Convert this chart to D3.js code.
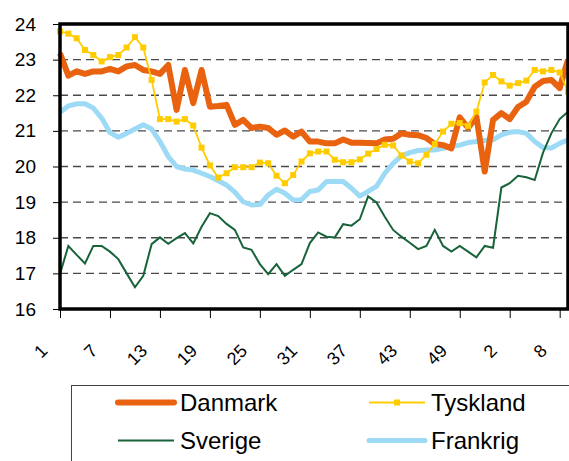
<!DOCTYPE html>
<html>
<head>
<meta charset="utf-8">
<script src="https://cdn.jsdelivr.net/npm/d3@7"></script>
<style>
  body { margin: 0; background: #fff; }
  svg { display: block; font-family: Arial, "Liberation Sans", sans-serif; }
</style>
</head>
<body>
<svg id="chart" width="569" height="461"></svg>
<script>
// week numbers along the x axis (53 weeks, then next year)
const weeks = [1,2,3,4,5,6,7,8,9,10,11,12,13,14,15,16,17,18,19,20,21,22,23,24,25,26,27,28,29,30,
  31,32,33,34,35,36,37,38,39,40,41,42,43,44,45,46,47,48,49,50,51,52,53,1,2,3,4,5,6,7,8,9];

const danmark = [23.18,22.55,22.67,22.6,22.67,22.67,22.74,22.67,22.81,22.85,22.71,22.67,22.6,22.85,21.59,
  22.71,21.78,22.71,21.68,21.7,21.73,21.17,21.31,21.08,21.12,21.08,20.89,21.01,20.84,20.98,20.7,20.7,
  20.65,20.65,20.76,20.67,20.67,20.66,20.65,20.76,20.78,20.93,20.89,20.88,20.8,20.63,20.6,20.51,21.38,
  21.08,21.4,19.86,21.31,21.5,21.33,21.67,21.82,22.24,22.4,22.43,22.2,23.0];

const tyskland = [23.79,23.73,23.6,23.27,23.13,22.95,23.07,23.13,23.34,23.63,23.34,22.43,21.33,21.33,21.26,
  21.33,21.15,20.53,20.03,19.69,19.81,19.98,19.98,19.98,20.11,20.09,19.74,19.53,19.76,20.14,20.37,20.42,
  20.42,20.19,20.12,20.12,20.2,20.36,20.49,20.61,20.59,20.31,20.14,20.09,20.33,20.63,20.98,21.2,21.22,
  21.14,21.54,22.36,22.57,22.39,22.27,22.34,22.41,22.71,22.67,22.71,22.64,22.1];

const sverige = [16.98,17.77,17.52,17.28,17.77,17.77,17.61,17.4,17.0,16.61,16.93,17.82,18.01,17.83,17.99,
  18.13,17.84,18.31,18.69,18.61,18.39,18.22,17.73,17.66,17.26,16.98,17.26,16.93,17.1,17.26,17.85,18.15,
  18.03,18.01,18.38,18.34,18.52,19.16,18.99,18.59,18.22,18.03,17.86,17.68,17.77,18.22,17.77,17.61,17.77,
  17.61,17.45,17.77,17.72,19.41,19.53,19.74,19.7,19.62,20.39,20.93,21.33,21.54];

const frankrig = [21.52,21.7,21.76,21.76,21.64,21.36,20.95,20.82,20.93,21.05,21.17,21.05,20.7,20.28,20.0,
  19.93,19.9,19.81,19.72,19.6,19.48,19.28,19.01,18.92,18.93,19.2,19.36,19.25,19.06,19.07,19.3,19.34,
  19.58,19.58,19.58,19.39,19.17,19.3,19.44,19.81,20.09,20.3,20.39,20.45,20.46,20.46,20.51,20.56,20.6,
  20.67,20.7,20.73,20.75,20.89,20.96,20.98,20.93,20.7,20.53,20.52,20.65,20.75];

const yTicks = [16,17,18,19,20,21,22,23,24];
const xTickIdx = [0,6,12,18,24,30,36,42,48,54,60];

const colors = { Danmark: '#e8620f', Tyskland: '#ffcc00', Sverige: '#17633a', Frankrig: '#9ddaf6' };

// plot box
const plotL = 60, plotR = 568, plotT = 24, plotB = 309;

const svg = d3.select('#chart');

const idx = d3.range(weeks.length);
const x = d3.scalePoint().domain(idx).range([plotL, plotR]);
const y = d3.scaleLinear().domain([16, 24]).range([plotB, plotT]);

// dashed grid
svg.append('g')
  .selectAll('line')
  .data(yTicks.filter(d => d > 16 && d < 24))
  .enter().append('line')
  .attr('x1', plotL).attr('x2', plotR)
  .attr('y1', d => y(d)).attr('y2', d => y(d))
  .attr('stroke', '#4a4a4a')
  .attr('stroke-width', 1.4)
  .attr('stroke-dasharray', '8,5');

// y axis ticks + labels
const yAxis = svg.append('g')
  .attr('transform', `translate(${plotL},0)`)
  .call(d3.axisLeft(y).tickValues(yTicks).tickSize(7).tickPadding(17).tickFormat(d3.format('d')));
yAxis.select('.domain').remove();
yAxis.selectAll('line').attr('stroke', '#000');
yAxis.selectAll('text')
  .attr('font-size', 19)
  .attr('fill', '#000')
  .attr('font-family', 'Arial, "Liberation Sans", sans-serif');

// x axis ticks + rotated labels
const xAxis = svg.append('g')
  .attr('transform', `translate(0,${plotB})`)
  .call(d3.axisBottom(x).tickValues(xTickIdx).tickSize(9).tickFormat(i => weeks[i]));
xAxis.select('.domain').remove();
xAxis.selectAll('line').attr('stroke', '#000');
xAxis.selectAll('text')
  .attr('font-size', 18)
  .attr('fill', '#000')
  .attr('font-family', 'Arial, "Liberation Sans", sans-serif')
  .attr('text-anchor', 'end')
  .attr('dy', null)
  .attr('y', 0)
  .attr('transform', 'translate(-12,43) rotate(-45)');

// lines
const line = d3.line().x((d, i) => x(i)).y(d => y(d));
const plot = svg.append('g');

plot.append('path').datum(frankrig)
  .attr('fill', 'none').attr('stroke', colors.Frankrig).attr('stroke-width', 5)
  .attr('stroke-linejoin', 'round').attr('d', line);

plot.append('path').datum(sverige)
  .attr('fill', 'none').attr('stroke', colors.Sverige).attr('stroke-width', 2)
  .attr('d', line);

plot.append('path').datum(danmark)
  .attr('fill', 'none').attr('stroke', colors.Danmark).attr('stroke-width', 6)
  .attr('stroke-linejoin', 'round').attr('d', line);

plot.append('path').datum(tyskland)
  .attr('fill', 'none').attr('stroke', colors.Tyskland).attr('stroke-width', 1.8)
  .attr('d', line);

plot.selectAll('.mk')
  .data(tyskland)
  .enter().append('rect')
  .attr('class', 'mk')
  .attr('x', (d, i) => x(i) - 3)
  .attr('y', d => y(d) - 3)
  .attr('width', 6).attr('height', 6)
  .attr('fill', colors.Tyskland);

// plot frame
svg.append('rect')
  .attr('x', plotL).attr('y', plotT)
  .attr('width', plotR - plotL).attr('height', plotB - plotT)
  .attr('fill', 'none').attr('stroke', '#000').attr('stroke-width', 3.5);

// legend
const legend = svg.append('g');
legend.append('rect')
  .attr('x', 71.5).attr('y', 385.5)
  .attr('width', 520).attr('height', 100)
  .attr('fill', '#fff').attr('stroke', '#444').attr('stroke-width', 1);

const legendItems = [
  { name: 'Danmark', lx: 118, ly: 402.5, w: 6 },
  { name: 'Tyskland', lx: 369, ly: 402.5, w: 2 },
  { name: 'Sverige', lx: 118, ly: 440.5, w: 2 },
  { name: 'Frankrig', lx: 369, ly: 440.5, w: 5 }
];

legendItems.forEach(it => {
  legend.append('line')
    .attr('x1', it.lx).attr('x2', it.lx + 56)
    .attr('y1', it.ly).attr('y2', it.ly)
    .attr('stroke', colors[it.name]).attr('stroke-width', it.w)
    .attr('stroke-linecap', it.w > 4 ? 'round' : 'butt');
  if (it.name === 'Tyskland') {
    legend.append('rect')
      .attr('x', it.lx + 28 - 3).attr('y', it.ly - 3)
      .attr('width', 6).attr('height', 6)
      .attr('fill', colors.Tyskland);
  }
  legend.append('text')
    .attr('x', it.lx + 62).attr('y', it.ly + 8)
    .attr('font-size', 24)
    .attr('fill', '#000')
    .text(it.name);
});
</script>
</body>
</html>
